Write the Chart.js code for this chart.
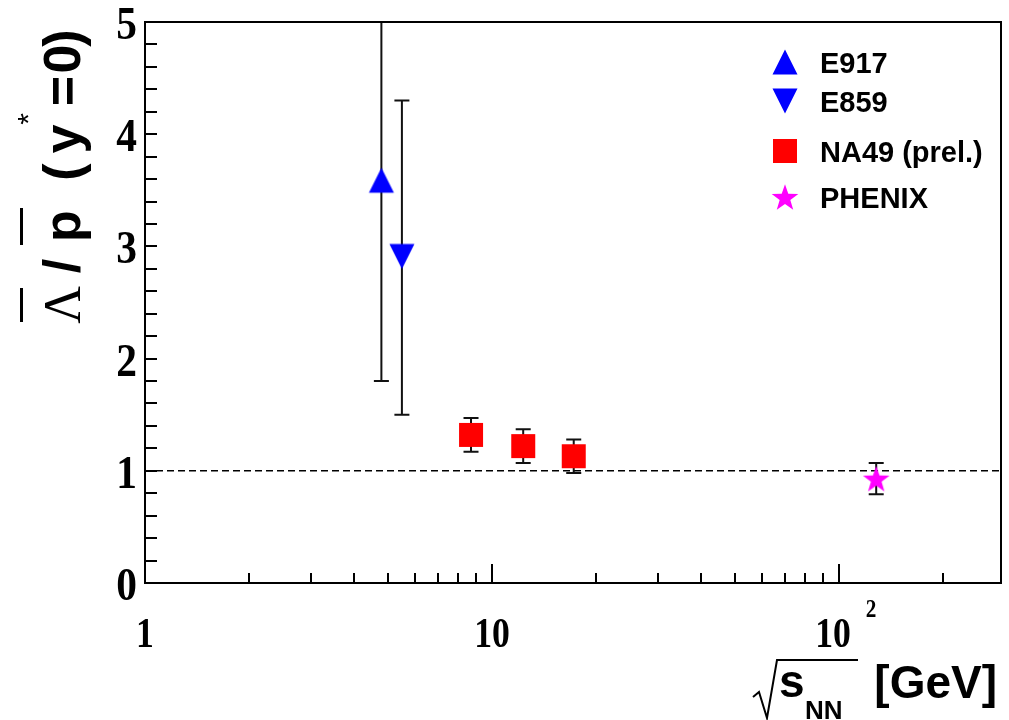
<!DOCTYPE html>
<html>
<head>
    <title>Antilambda / antiproton ratio</title>
    <script src="https://cdn.jsdelivr.net/npm/chart.js"></script>
    <style>
        body { margin: 0; background: #fff; }
    </style>
</head>
<body>
    <canvas id="ratioChart" width="1009" height="720"></canvas>
    <script>
        // values
        const e917X = [4.8];
        const e917Y = [3.59];
        const e917Lo = [1.80];
        const e917Hi = [5.6];

        const e859X = [5.5];
        const e859Y = [2.91];
        const e859Lo = [1.50];
        const e859Hi = [4.30];

        const na49X = [8.7, 12.3, 17.2];
        const na49Y = [1.32, 1.22, 1.13];
        const na49Lo = [1.17, 1.07, 0.98];
        const na49Hi = [1.47, 1.37, 1.28];

        const phenixX = [128];
        const phenixY = [0.93];
        const phenixLo = [0.79];
        const phenixHi = [1.07];

        const yTicks = [0, 1, 2, 3, 4, 5];
        const yTickLabels = ['0', '1', '2', '3', '4', '5'];
        const xTicks = [1, 10, 100];
        const xTickLabels = ['1', '10', '10^2'];
        const refLine = 1;

        const SERIF = '"Liberation Serif", "Times New Roman", serif';
        const SANS = '"Liberation Sans", Arial, sans-serif';

        function marker(kind, color) {
            const c = document.createElement('canvas');
            c.width = 32; c.height = 32;
            const g = c.getContext('2d');
            g.fillStyle = color;
            g.beginPath();
            if (kind === 'up') {
                g.moveTo(16, 3.5); g.lineTo(28.5, 28.5); g.lineTo(3.5, 28.5);
            } else if (kind === 'down') {
                g.moveTo(3.5, 3.5); g.lineTo(28.5, 3.5); g.lineTo(16, 28.5);
            } else if (kind === 'square') {
                g.rect(4, 4, 24, 24);
            } else {
                const R = 14, r = 14 * 0.4, cx = 16, cy = 17.3;
                for (let i = 0; i < 10; i++) {
                    const rad = i % 2 ? r : R;
                    const a = -Math.PI / 2 + i * Math.PI / 5;
                    const px = cx + rad * Math.cos(a), py = cy + rad * Math.sin(a);
                    i ? g.lineTo(px, py) : g.moveTo(px, py);
                }
            }
            g.closePath();
            g.fill();
            return c;
        }

        function pts(xs, ys) {
            return xs.map((v, i) => ({ x: v, y: ys[i] }));
        }

        // narrow text like the ROOT bitmap fonts
        function text(ctx, s, x, y, font, align, sx) {
            ctx.save();
            ctx.font = font;
            ctx.textAlign = align;
            ctx.textBaseline = 'alphabetic';
            ctx.translate(x, y);
            ctx.scale(sx || 1, 1);
            ctx.fillText(s, 0, 0);
            ctx.restore();
        }

        const rootFrame = {
            id: 'rootFrame',
            beforeDatasetsDraw(chart) {
                const { ctx, chartArea: a, scales: { x, y } } = chart;
                ctx.save();
                ctx.beginPath();
                ctx.rect(a.left, a.top, a.right - a.left, a.bottom - a.top);
                ctx.clip();
                // dashed reference line
                ctx.strokeStyle = '#000';
                ctx.lineWidth = 1.5;
                ctx.setLineDash([7, 4]);
                const y1 = y.getPixelForValue(refLine);
                ctx.beginPath();
                ctx.moveTo(a.left, y1);
                ctx.lineTo(a.right, y1);
                ctx.stroke();
                ctx.setLineDash([]);
                // error bars
                ctx.lineWidth = 2;
                ctx.strokeStyle = '#111';
                chart.data.datasets.forEach(ds => {
                    ds.data.forEach((p, i) => {
                        const px = x.getPixelForValue(p.x);
                        const lo = y.getPixelForValue(ds.errLo[i]);
                        const hi = y.getPixelForValue(ds.errHi[i]);
                        ctx.beginPath();
                        ctx.moveTo(px, lo); ctx.lineTo(px, hi);
                        ctx.moveTo(px - 7.5, lo); ctx.lineTo(px + 7.5, lo);
                        ctx.moveTo(px - 7.5, hi); ctx.lineTo(px + 7.5, hi);
                        ctx.stroke();
                    });
                });
                ctx.restore();
            },
            afterDraw(chart) {
                const { ctx, chartArea: a, scales: { x, y } } = chart;
                ctx.save();
                ctx.strokeStyle = '#000';
                ctx.fillStyle = '#000';

                // frame
                ctx.lineWidth = 2;
                ctx.strokeRect(a.left, a.top, a.right - a.left, a.bottom - a.top);

                // y ticks, every 0.2
                ctx.beginPath();
                for (let v = 0; v <= 5.0001; v += 0.2) {
                    const py = Math.round(y.getPixelForValue(v));
                    ctx.moveTo(a.left, py); ctx.lineTo(a.left + 12, py);
                }
                ctx.stroke();

                // x ticks, log decades
                ctx.beginPath();
                for (let d = 1; d <= 100; d *= 10) {
                    for (let k = 1; k <= 9; k++) {
                        const v = d * k;
                        if (v > x.max) break;
                        const px = Math.round(x.getPixelForValue(v));
                        ctx.moveTo(px, a.bottom);
                        ctx.lineTo(px, a.bottom - (k === 1 ? 19 : 10));
                    }
                }
                ctx.stroke();

                // y tick labels
                yTicks.forEach((v, i) => {
                    text(ctx, yTickLabels[i], 137, y.getPixelForValue(v) + 17, 'bold 46px ' + SERIF, 'right', 0.9);
                });

                // x tick labels
                xTicks.forEach((v, i) => {
                    const px = x.getPixelForValue(v);
                    const [base, exp] = xTickLabels[i].split('^');
                    if (exp) {
                        text(ctx, base, px - 6, 647, 'bold 42px ' + SERIF, 'center', 0.85);
                        text(ctx, exp, px + 32, 617, 'bold 25px ' + SERIF, 'center', 0.85);
                    } else {
                        text(ctx, base, px, 647, 'bold 42px ' + SERIF, 'center', 0.85);
                    }
                });

                // x title: sqrt(s_NN) [GeV]
                text(ctx, '[GeV]', 997, 698, 'bold 46px ' + SANS, 'right');
                text(ctx, 's', 779, 697, 'bold 46px ' + SANS, 'left');
                text(ctx, 'NN', 805, 719, 'bold 26px ' + SANS, 'left');
                ctx.lineWidth = 2;
                ctx.beginPath();
                ctx.moveTo(753, 697);
                ctx.lineTo(759, 692);
                ctx.lineTo(767, 718);
                ctx.lineTo(777, 660);
                ctx.lineTo(858, 660);
                ctx.stroke();

                // y title, rotated: anti-Lambda / anti-p (y* = 0)
                const pieces = [
                    ['\u039B', 305, 'normal 52px ' + SERIF, 80],
                    ['/', 266, 'bold 52px ' + SANS, 80],
                    ['p', 226, 'bold 52px ' + SANS, 80],
                    ['(', 172, 'bold 52px ' + SANS, 80],
                    ['y', 139, 'bold 52px ' + SANS, 80],
                    ['*', 119, 'normal 30px ' + SANS, 38],
                    ['=', 91, 'bold 52px ' + SANS, 80],
                    ['0', 59, 'bold 52px ' + SANS, 80],
                    [')', 38, 'bold 52px ' + SANS, 80]
                ];
                pieces.forEach(([s, cy, font, bx]) => {
                    ctx.save();
                    ctx.translate(bx, cy);
                    ctx.rotate(-Math.PI / 2);
                    ctx.font = font;
                    ctx.textAlign = 'center';
                    ctx.textBaseline = 'alphabetic';
                    ctx.fillText(s, 0, 0);
                    ctx.restore();
                });
                ctx.fillRect(20, 288, 3, 34);
                ctx.fillRect(20, 208, 3, 37);

                // legend
                const rows = [62, 101, 151, 197];
                chart.data.datasets.forEach((ds, i) => {
                    const img = ds.pointStyle;
                    ctx.drawImage(img, 785 - img.width / 2, rows[i] - img.height / 2);
                    text(ctx, ds.label, 820, rows[i] + 11, 'bold 29px ' + SANS, 'left');
                });
                ctx.restore();
            }
        };

        const ctx = document.getElementById('ratioChart').getContext('2d');
        const chart = new Chart(ctx, {
            type: 'scatter',
            data: {
                datasets: [
                    {
                        label: 'E917',
                        data: pts(e917X, e917Y),
                        errLo: e917Lo, errHi: e917Hi,
                        pointStyle: marker('up', '#0000ff')
                    },
                    {
                        label: 'E859',
                        data: pts(e859X, e859Y),
                        errLo: e859Lo, errHi: e859Hi,
                        pointStyle: marker('down', '#0000ff')
                    },
                    {
                        label: 'NA49 (prel.)',
                        data: pts(na49X, na49Y),
                        errLo: na49Lo, errHi: na49Hi,
                        pointStyle: marker('square', '#ff0000')
                    },
                    {
                        label: 'PHENIX',
                        data: pts(phenixX, phenixY),
                        errLo: phenixLo, errHi: phenixHi,
                        pointStyle: marker('star', '#ff00ff')
                    }
                ]
            },
            options: {
                responsive: false,
                animation: false,
                layout: { padding: { left: 145, top: 22, right: 8, bottom: 137 } },
                plugins: { legend: { display: false }, tooltip: { enabled: false } },
                scales: {
                    x: { type: 'logarithmic', min: 1, max: 293, display: false },
                    y: { type: 'linear', min: 0, max: 5, display: false }
                }
            },
            plugins: [rootFrame]
        });
    </script>
</body>
</html>
